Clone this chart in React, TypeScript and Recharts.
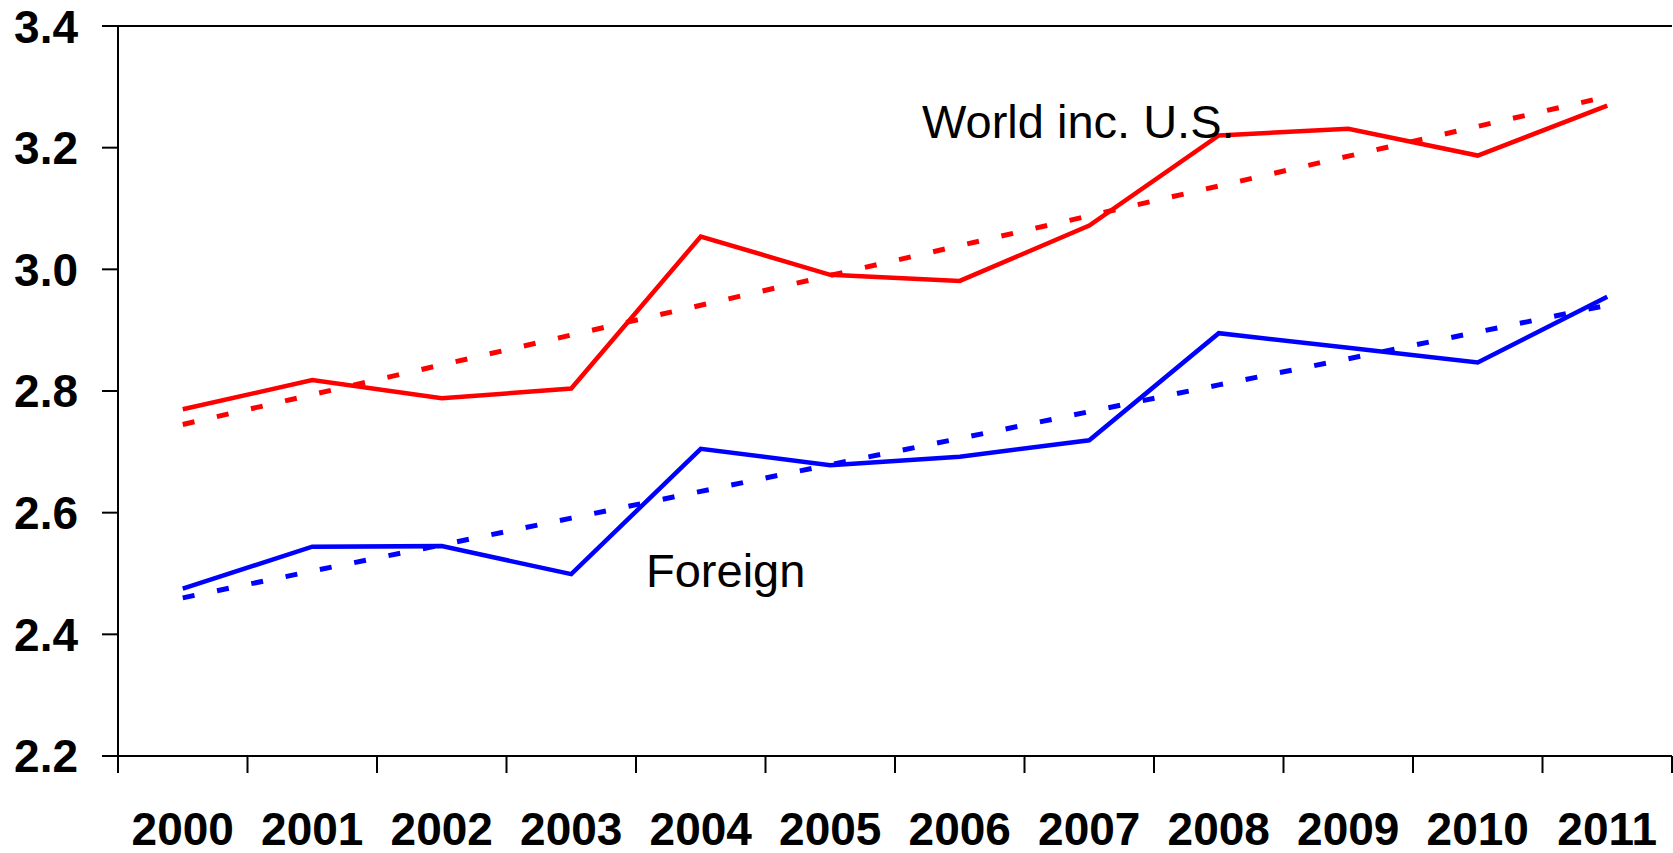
import React from 'react';
import { LineChart, Line, XAxis, YAxis, CartesianGrid } from 'recharts';

const years = ['2000', '2001', '2002', '2003', '2004', '2005', '2006', '2007', '2008', '2009', '2010', '2011'];
const worldActual = [2.770, 2.818, 2.788, 2.804, 3.054, 2.991, 2.981, 3.072, 3.220, 3.231, 3.187, 3.269];
const worldTrend = [2.745, 2.794, 2.843, 2.892, 2.941, 2.990, 3.039, 3.088, 3.137, 3.186, 3.235, 3.284];
const foreignActual = [2.475, 2.544, 2.545, 2.499, 2.705, 2.678, 2.692, 2.719, 2.895, 2.871, 2.847, 2.955];
const foreignTrend = [2.460, 2.504, 2.547, 2.591, 2.635, 2.679, 2.722, 2.766, 2.810, 2.853, 2.897, 2.941];
const yTicks = [2.2, 2.4, 2.6, 2.8, 3.0, 3.2, 3.4];

const data = years.map((y, i) => ({
  year: y,
  worldActual: worldActual[i],
  worldTrend: worldTrend[i],
  foreignActual: foreignActual[i],
  foreignTrend: foreignTrend[i],
}));

const W = 1673;
const H = 853;
const LEFT = 118;
const RIGHT_MARGIN = 1;
const TOP = 26;
const XAXIS_H = 97;
const FONT = '"Liberation Sans", Arial, Helvetica, sans-serif';
const HALF_BAND = (W - LEFT - RIGHT_MARGIN) / years.length / 2;

const XTick = (props: any) => {
  const { x, y, payload, index } = props;
  const last = index === years.length - 1;
  return (
    <g>
      <line x1={x - HALF_BAND} x2={x - HALF_BAND} y1={y} y2={y + 17} stroke="#000" strokeWidth={2} />
      {last && <line x1={x + HALF_BAND} x2={x + HALF_BAND} y1={y} y2={y + 17} stroke="#000" strokeWidth={2} />}
      <text x={x} y={y + 89} textAnchor="middle" fontFamily={FONT} fontWeight="bold" fontSize={46} fill="#000">
        {payload.value}
      </text>
    </g>
  );
};

export default function App() {
  return (
    <div style={{ position: 'absolute', left: 0, top: 0, width: W, height: H, background: '#fff' }}>
      <LineChart width={W} height={H} data={data} margin={{ top: TOP, right: RIGHT_MARGIN, bottom: 0, left: 0 }}>
        <CartesianGrid vertical={false} stroke="#000" strokeWidth={2} />
        <XAxis
          dataKey="year"
          height={XAXIS_H}
          interval={0}
          padding={{ left: HALF_BAND, right: HALF_BAND }}
          tickLine={false}
          tickSize={0}
          tickMargin={0}
          axisLine={{ stroke: '#000', strokeWidth: 2 }}
          tick={<XTick />}
        />
        <YAxis
          yAxisId="left"
          width={LEFT}
          domain={[2.2, 3.4]}
          ticks={yTicks}
          type="number"
          allowDataOverflow
          tickFormatter={(v: number) => v.toFixed(1)}
          tickSize={16}
          tickMargin={24}
          axisLine={{ stroke: '#000', strokeWidth: 2 }}
          tickLine={{ stroke: '#000', strokeWidth: 2 }}
          tick={{ fontSize: 46, fontWeight: 'bold', fill: '#000', fontFamily: FONT }}
        />
        <YAxis
          yAxisId="right"
          orientation="right"
          width={0}
          domain={[2.2, 3.4]}
          tick={false}
          tickLine={false}
          axisLine={{ stroke: '#000', strokeWidth: 2 }}
        />
        <Line yAxisId="left" type="linear" dataKey="worldActual" stroke="#FF0000" strokeWidth={4.5} dot={false} isAnimationActive={false} />
        <Line yAxisId="left" type="linear" dataKey="worldTrend" stroke="#FF0000" strokeWidth={5} strokeDasharray="12 23" dot={false} isAnimationActive={false} />
        <Line yAxisId="left" type="linear" dataKey="foreignActual" stroke="#0000FF" strokeWidth={4.5} dot={false} isAnimationActive={false} />
        <Line yAxisId="left" type="linear" dataKey="foreignTrend" stroke="#0000FF" strokeWidth={5} strokeDasharray="12 23" dot={false} isAnimationActive={false} />
      </LineChart>
      <svg width={W} height={H} style={{ position: 'absolute', left: 0, top: 0, pointerEvents: 'none' }}>
        <text x={922} y={138} fontFamily={FONT} fontSize={47} fill="#000">World inc. U.S.</text>
        <text x={646} y={587} fontFamily={FONT} fontSize={47} fill="#000">Foreign</text>
      </svg>
    </div>
  );
}
